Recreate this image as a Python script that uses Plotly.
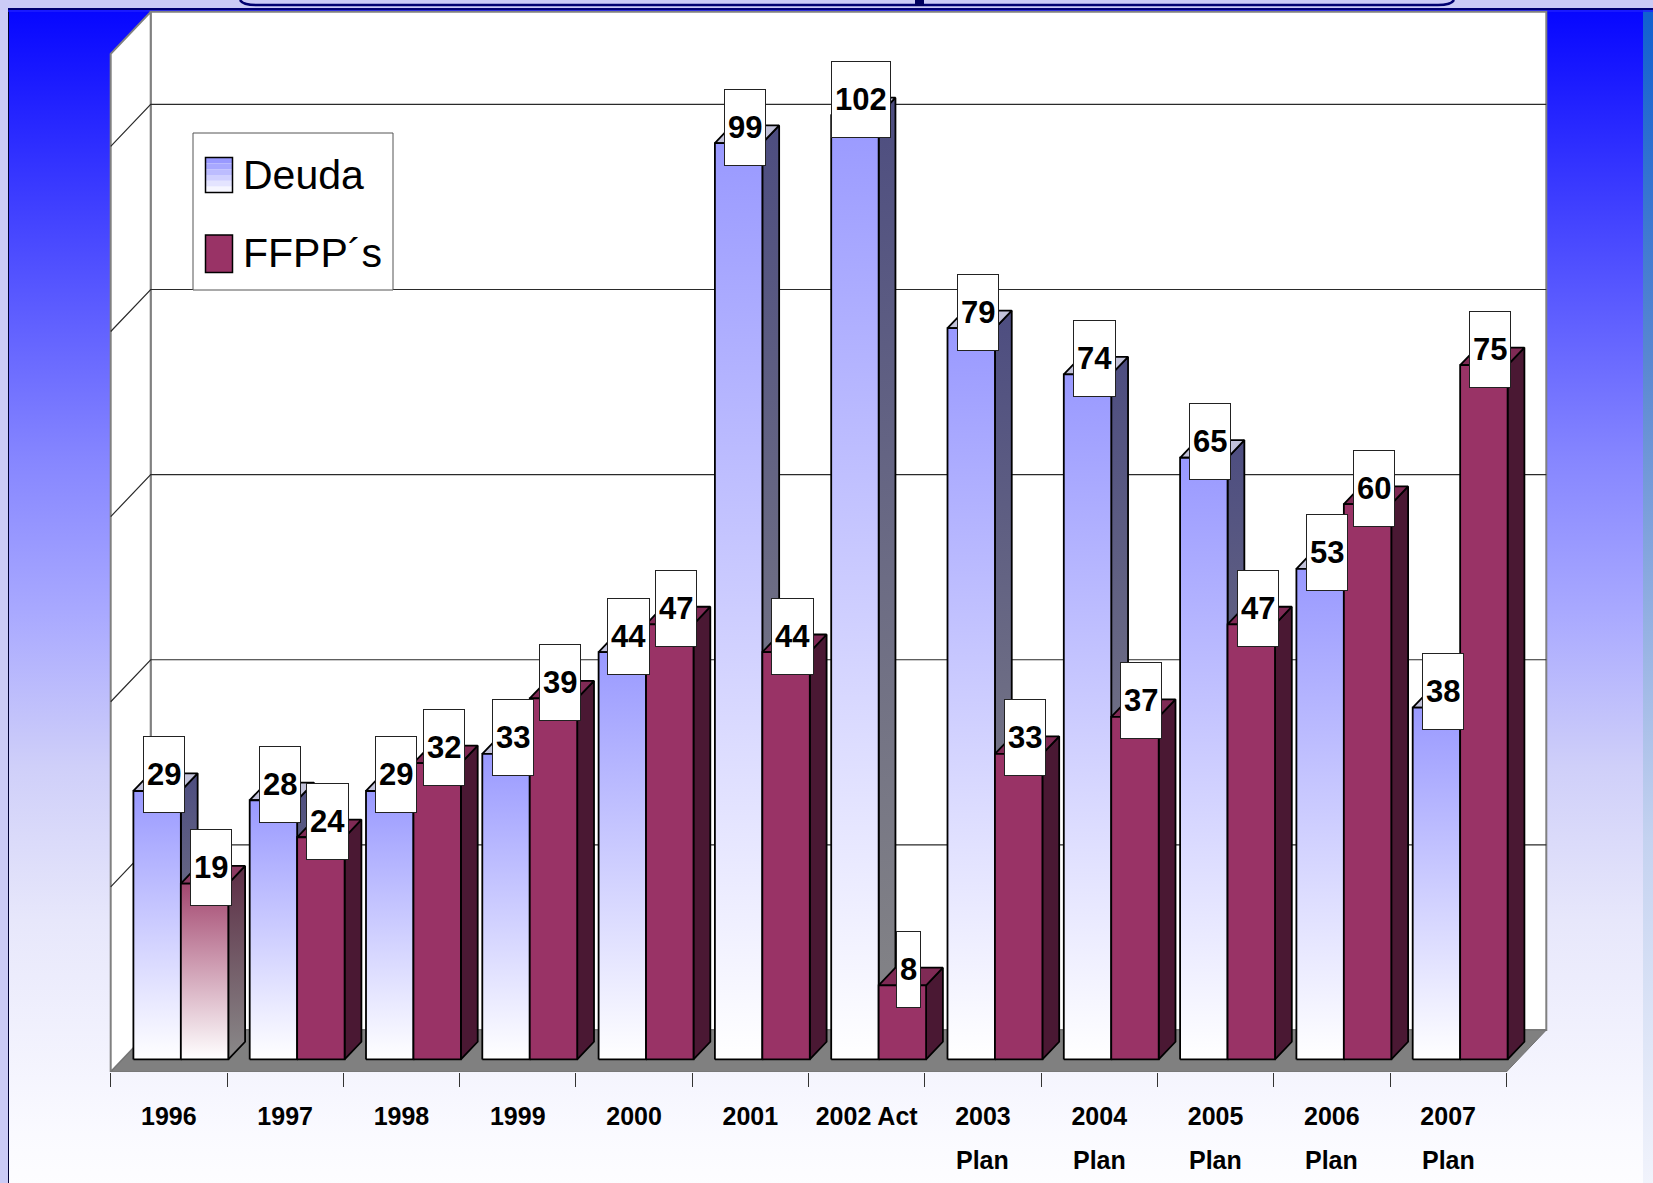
import base64
import plotly.graph_objects as go

# ---------------- data ----------------
categories = ["1996", "1997", "1998", "1999", "2000", "2001", "2002 Act",
              "2003<br>Plan", "2004<br>Plan", "2005<br>Plan", "2006<br>Plan", "2007<br>Plan"]
deuda = [29, 28, 29, 33, 44, 99, 102, 79, 74, 65, 53, 38]
ffpp = [19, 24, 32, 39, 47, 44, 8, 33, 37, 47, 60, 75]
series_names = ["Deuda", "FFPP´s"]
grid_values = [20, 40, 60, 80, 100]
wall_top_value = 110

# ---------------- geometry / style ----------------
W, H = 1653, 1183
FLOOR_FRONT_PX = 1072          # pixel row of the front floor edge (value 0, depth 0)
PX_PER_CAT = 116.3
PX_PER_UNIT = 9.256
AXIS_LEFT_PX = 110.7
DEPTH_PX_X, DEPTH_PX_Y = 40, 42
DX = DEPTH_PX_X / PX_PER_CAT
DY = DEPTH_PX_Y / PX_PER_UNIT
D_FRONT, D_BACK = 0.30, 0.72
BAR_W = 0.408
n = len(categories)
XL, XR = -0.5, n - 0.5

FONT = "Liberation Sans, Arial, sans-serif"

DEUDA_FRONT = [[0, "#ffffff"], [1, "#9999ff"]]
DEUDA_SIDE = [[0, "#868686"], [0.5, "#6c6c84"], [1, "#4d4d80"]]
DEUDA_TOP = "#c2c2da"
FFPP_FRONT = "#993366"
FFPP_SIDE = "#4a1833"
FFPP_TOP = "#7f2a55"
FFPP_FADED_FRONT = [[0, "#ffffff"], [1, "#a3476f"]]
FFPP_FADED_SIDE = [[0, "#8a8a8a"], [1, "#5c2d45"]]
FFPP_FADED_TOP = "#8c3a62"
faded_ffpp = {0}

fig = go.Figure()


def poly(xs, ys, fill=None, gradient=None, line_color="black", line_width=1.8):
    xs = list(xs) + [xs[0]]
    ys = list(ys) + [ys[0]]
    kw = dict(x=xs, y=ys, mode="lines", fill="toself",
              line=dict(color=line_color, width=line_width),
              hoverinfo="skip", showlegend=False)
    if gradient is not None:
        kw["fillgradient"] = dict(type="vertical", colorscale=gradient)
    else:
        kw["fillcolor"] = fill
    fig.add_trace(go.Scatter(**kw))


# walls and floor
poly([XL + DX, XR + DX, XR + DX, XL + DX], [DY, DY, wall_top_value + DY, wall_top_value + DY],
     fill="white", line_color="#808080", line_width=2)
poly([XL, XL + DX, XL + DX, XL], [0, DY, wall_top_value + DY, wall_top_value],
     fill="white", line_color="#808080", line_width=2)
poly([XL, XR, XR + DX, XL + DX], [0, 0, DY, DY], fill="#808080", line_color="#707070", line_width=1)

# grid lines (side wall diagonals + back wall)
gx, gy = [], []
for g in grid_values:
    gx += [XL, XL + DX, XR + DX, None]
    gy += [g, g + DY, g + DY, None]
fig.add_trace(go.Scatter(x=gx, y=gy, mode="lines", line=dict(color="#2a2a2a", width=1.2),
                         hoverinfo="skip", showlegend=False))

# bars
base = D_FRONT * DY
sx = D_FRONT * DX
bx = (D_BACK - D_FRONT) * DX
by = (D_BACK - D_FRONT) * DY
LABEL_DX = 6.5 / PX_PER_CAT
LABEL_DY = 16 / PX_PER_UNIT


def bar(x0, x1, v, front, side, top):
    y0, y1 = base, base + v
    side_kw = dict(gradient=side) if isinstance(side, list) else dict(fill=side)
    top_kw = dict(gradient=top) if isinstance(top, list) else dict(fill=top)
    front_kw = dict(gradient=front) if isinstance(front, list) else dict(fill=front)
    poly([x1, x1 + bx, x1 + bx, x1], [y0, y0 + by, y1 + by, y1], **side_kw)
    poly([x0, x1, x1 + bx, x0 + bx], [y1, y1, y1 + by, y1 + by], **top_kw)
    poly([x0, x1, x1, x0], [y0, y0, y1, y1], **front_kw)
    fig.add_annotation(x=(x0 + x1) / 2 + LABEL_DX, y=y1 + LABEL_DY, xref="x", yref="y",
                       text=str(v), showarrow=False, bgcolor="white", bordercolor="#222222",
                       borderwidth=1, borderpad=3, height=69,
                       font=dict(family=FONT, size=31, color="black", weight="bold"))


for i in range(n):
    d0 = i - BAR_W + sx
    d1 = i + sx
    bar(d0, d1, deuda[i], DEUDA_FRONT, DEUDA_SIDE, DEUDA_TOP)
    f0, f1 = d1, d1 + BAR_W
    if i in faded_ffpp:
        bar(f0, f1, ffpp[i], FFPP_FADED_FRONT, FFPP_FADED_SIDE, FFPP_FADED_TOP)
    else:
        bar(f0, f1, ffpp[i], FFPP_FRONT, FFPP_SIDE, FFPP_TOP)


# ---------------- pixel -> paper helpers ----------------
def px(xp):
    return xp / W


def py(yp):
    return 1 - yp / FLOOR_FRONT_PX


# ---------------- category labels ----------------
first_lines = [c.split("<br>")[0] for c in categories]
second_lines = [c.split("<br>")[1] if "<br>" in c else "" for c in categories]
TICK_FONT = dict(family=FONT, size=25, color="black", weight="bold")
for i, t in enumerate(second_lines):
    if t:
        fig.add_annotation(x=i, y=py(1160), xref="x", yref="paper", text=t, showarrow=False,
                           yanchor="middle", font=TICK_FONT)

# ---------------- legend (manual) ----------------
fig.add_shape(type="rect", xref="paper", yref="paper", x0=px(193), x1=px(393), y0=py(133), y1=py(290),
              fillcolor="white", line=dict(color="#555555", width=1))
band_cols = ["#9999ff", "#a8a8ff", "#bcbcff", "#d0d0ff", "#e4e4ff", "#f6f6ff"]
sw_top, sw_bot = 157.5, 192.5
step = (sw_bot - sw_top) / len(band_cols)
for k, c in enumerate(band_cols):
    fig.add_shape(type="rect", xref="paper", yref="paper", x0=px(205.5), x1=px(232.5),
                  y0=py(sw_top + step * (k + 1)), y1=py(sw_top + step * k),
                  fillcolor=c, line=dict(width=0))
fig.add_shape(type="rect", xref="paper", yref="paper", x0=px(205.5), x1=px(232.5), y0=py(sw_bot), y1=py(sw_top),
              fillcolor="rgba(0,0,0,0)", line=dict(color="black", width=1.5))
fig.add_shape(type="rect", xref="paper", yref="paper", x0=px(205.5), x1=px(232.5), y0=py(272.5), y1=py(235),
              fillcolor=FFPP_FRONT, line=dict(color="black", width=1.5))
for name, yc in zip(series_names, [175, 253]):
    fig.add_annotation(x=px(241), y=py(yc), xref="paper", yref="paper", text=name, showarrow=False,
                       xanchor="left", yanchor="middle",
                       font=dict(family=FONT, size=41, color="black"))

# ---------------- background (slide) ----------------
svg = f"""<svg xmlns='http://www.w3.org/2000/svg' width='{W}' height='{H}' viewBox='0 0 {W} {H}' preserveAspectRatio='none'>
<defs>
<linearGradient id='g' x1='0' y1='0' x2='0' y2='1'>
<stop offset='0' stop-color='#0606ff'/>
<stop offset='0.18' stop-color='#4444ff'/>
<stop offset='0.38' stop-color='#8686ff'/>
<stop offset='0.51' stop-color='#a9a9ff'/>
<stop offset='0.64' stop-color='#cfcff9'/>
<stop offset='0.77' stop-color='#e7e7fb'/>
<stop offset='0.95' stop-color='#fafaff'/>
<stop offset='1' stop-color='#fdfdff'/>
</linearGradient>
<linearGradient id='r' x1='0' y1='0' x2='0' y2='1'>
<stop offset='0' stop-color='#1060d0'/>
<stop offset='0.3' stop-color='#5a88d2'/>
<stop offset='0.7' stop-color='#c4d2f0'/>
<stop offset='1' stop-color='#f2f4fc'/>
</linearGradient>
</defs>
<rect width='{W}' height='{H}' fill='#cbcbf6'/>
<rect x='8.5' y='9.5' width='{W}' height='{H}' fill='url(#g)' stroke='#000033' stroke-width='1'/>
<rect x='1643' y='10' width='10' height='{H}' fill='url(#r)'/>
<path d='M240,0 Q243,5 256,5 L1438,5 Q1451,5 1454,0' stroke='#000070' stroke-width='2.5' fill='none'/>
<line x1='8' y1='9' x2='{W}' y2='9' stroke='#000070' stroke-width='2'/>
<line x1='8' y1='11' x2='{W}' y2='11' stroke='#2020ff' stroke-width='1.5'/>
<rect x='915' y='0' width='9' height='6' fill='#000060'/>
</svg>"""
src = "data:image/svg+xml;base64," + base64.b64encode(svg.encode("utf-8")).decode("ascii")
fig.add_layout_image(source=src, xref="paper", yref="paper", x=0, y=1, sizex=1, sizey=H / FLOOR_FRONT_PX,
                     xanchor="left", yanchor="top", sizing="stretch", layer="below")

# ---------------- axes / layout ----------------
x_range = [XL - AXIS_LEFT_PX / PX_PER_CAT, XL + (W - AXIS_LEFT_PX) / PX_PER_CAT]
y_range = [0, FLOOR_FRONT_PX / PX_PER_UNIT]

fig.update_xaxes(range=x_range, showgrid=False, zeroline=False, showline=False,
                 tickmode="array", tickvals=list(range(n)), ticktext=first_lines,
                 ticks="outside", ticklen=14, tickcolor="rgba(0,0,0,0)",
                 ticklabelstandoff=8,
                 tickfont=TICK_FONT,
                 minor=dict(tickmode="array", tickvals=[XL + k for k in range(n + 1)], ticks="outside",
                            ticklen=14, tickcolor="#333333", tickwidth=1, showgrid=False),
                 fixedrange=True)
fig.update_yaxes(range=y_range, visible=False, showgrid=False, zeroline=False, fixedrange=True)

fig.update_layout(width=W, height=H, margin=dict(l=0, r=0, t=0, b=H - FLOOR_FRONT_PX),
                  paper_bgcolor="#cbcbf6", plot_bgcolor="rgba(0,0,0,0)", showlegend=False)

fig.write_html("out.html", config={"displayModeBar": False},
               post_script="document.body.style.margin='0';document.body.style.overflow='hidden';"
                           "document.body.style.background='#cbcbf6';")
